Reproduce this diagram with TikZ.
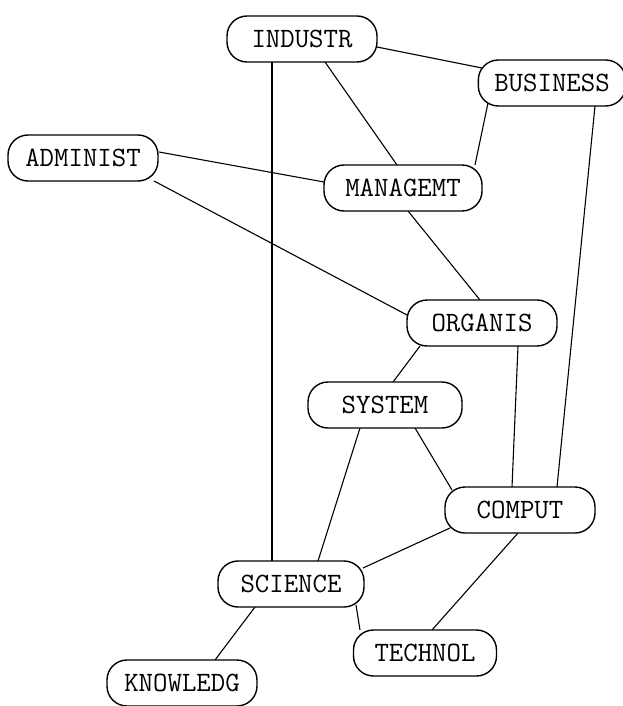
\documentclass[tikz,border=0pt]{standalone}
\usetikzlibrary{calc,backgrounds}
\begin{document}
\begin{tikzpicture}[x=1pt,y=-1pt,
  word/.style={draw,fill=white,line width=1.4pt,rounded corners=20pt,
    minimum width=150pt,minimum height=46pt,inner xsep=16pt,
    font=\fontsize{28}{30}\selectfont\ttfamily},
  link/.style={line width=1.1pt}]
\useasboundingbox (0,0) rectangle (623,706);
\node[word] (industr)  at (302, 39) {INDUSTR};
\node[word,minimum width=140pt] (business) at (552, 83) {BUSINESS};
\node[word] (administ) at ( 83,158) {ADMINIST};
\node[word,minimum width=158pt] (managemt) at (403,188) {MANAGEMT};
\node[word] (organis)  at (482,323) {ORGANIS};
\node[word,minimum width=154pt] (system)   at (385,405) {SYSTEM};
\node[word] (comput)   at (520,510) {COMPUT};
\node[word,minimum width=146pt] (science)  at (291,584) {SCIENCE};
\node[word,minimum width=143pt] (technol)  at (425,653) {TECHNOL};
\node[word] (knowledg) at (182,683) {KNOWLEDG};
%links
\begin{scope}[on background layer]
\draw[link] ($(industr)+(75,8)$)   -- ($(business)+(-70,-15)$);
\draw[link] ($(industr)+(23,23)$)  -- ($(managemt)+(-6,-23)$);
\draw[link] ($(industr)+(-30,23)$) -- ($(science)+(-19,-23)$);
\draw[link] ($(business)+(-64,20)$) -- ($(managemt)+(72,-23)$);
\draw[link] ($(business)+(43,23)$) -- ($(comput)+(37,-23)$);
\draw[link] ($(administ)+(76,-6)$) -- ($(managemt)+(-79,-6)$);
\draw[link] ($(administ)+(71,23)$) -- ($(organis)+(-75,-8)$);
\draw[link] ($(managemt)+(5,23)$)  -- ($(organis)+(-2,-23)$);
\draw[link] ($(organis)+(-62,23)$) -- ($(system)+(8,-23)$);
\draw[link] ($(organis)+(36,23)$)  -- ($(comput)+(-8,-23)$);
\draw[link] ($(system)+(30,23)$)   -- ($(comput)+(-68,-20)$);
\draw[link] ($(system)+(-25,23)$)  -- ($(science)+(27,-23)$);
\draw[link] ($(comput)+(-70,18)$)  -- ($(science)+(72,-16)$);
\draw[link] ($(comput)+(-2,23)$)   -- ($(technol)+(7,-23)$);
\draw[link] ($(science)+(65,21)$)  -- ($(technol)+(-65,-23)$);
\draw[link] ($(science)+(-36,23)$) -- ($(knowledg)+(33,-23)$);
\end{scope}
\end{tikzpicture}
\end{document}
